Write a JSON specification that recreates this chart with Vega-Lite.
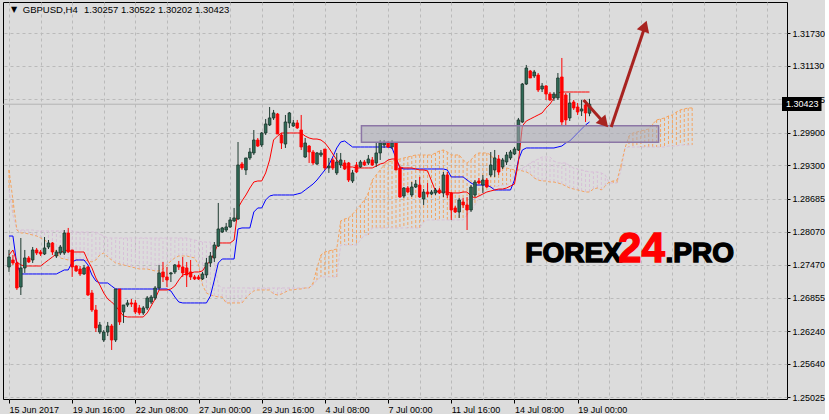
{
"$schema": "https://vega.github.io/schema/vega-lite/v6.json",
"width": 784, "height": 397,
"padding": {"left": 2, "top": 2, "right": 0, "bottom": 0},
"background": "#dcdcdc",
"config": {"view": {"stroke": "#000000", "strokeWidth": 1}, "axis": {"labelFont": "Liberation Sans", "labelFontSize": 9, "labelColor": "#000000", "tickColor": "#000000", "domain": false, "gridColor": "#bababa", "gridDash": [3,3], "labelOverlap": false, "labelFlush": false, "labelBound": false}},
"datasets": {
"bars": [
{"i":0,"o":1.27425,"h":1.27738,"l":1.27333,"c":1.27609,"t":1.27646,"k":1.27995},
{"i":1,"o":1.27554,"h":1.27646,"l":1.27462,"c":1.27499,"t":1.27738,"k":1.27995},
{"i":2,"o":1.27499,"h":1.27517,"l":1.27001,"c":1.27038,"t":1.27517,"k":1.27462},
{"i":3,"o":1.27056,"h":1.27959,"l":1.26909,"c":1.27407,"t":1.27462,"k":1.27296},
{"i":4,"o":1.27407,"h":1.27738,"l":1.27315,"c":1.27591,"t":1.27443,"k":1.27296},
{"i":5,"o":1.27591,"h":1.27627,"l":1.27499,"c":1.27517,"t":1.27443,"k":1.27296},
{"i":6,"o":1.27554,"h":1.27793,"l":1.27499,"c":1.27738,"t":1.27443,"k":1.27296},
{"i":7,"o":1.27738,"h":1.27775,"l":1.27646,"c":1.27683,"t":1.27443,"k":1.27296},
{"i":8,"o":1.27701,"h":1.27738,"l":1.27627,"c":1.27664,"t":1.27443,"k":1.27296},
{"i":9,"o":1.27664,"h":1.27977,"l":1.27646,"c":1.27775,"t":1.27499,"k":1.27296},
{"i":10,"o":1.27793,"h":1.27922,"l":1.27756,"c":1.27867,"t":1.27554,"k":1.27296},
{"i":11,"o":1.27867,"h":1.27885,"l":1.27646,"c":1.27701,"t":1.27609,"k":1.27296},
{"i":12,"o":1.27627,"h":1.27738,"l":1.27591,"c":1.27701,"t":1.27664,"k":1.27296},
{"i":13,"o":1.27683,"h":1.27830,"l":1.27646,"c":1.27793,"t":1.27701,"k":1.27333},
{"i":14,"o":1.27683,"h":1.28106,"l":1.27646,"c":1.28051,"t":1.27720,"k":1.27370},
{"i":15,"o":1.28051,"h":1.28144,"l":1.27683,"c":1.27701,"t":1.27738,"k":1.27370},
{"i":16,"o":1.27738,"h":1.27738,"l":1.27241,"c":1.27425,"t":1.27701,"k":1.27517},
{"i":17,"o":1.27443,"h":1.27462,"l":1.27333,"c":1.27352,"t":1.27701,"k":1.27554},
{"i":18,"o":1.27388,"h":1.27443,"l":1.27259,"c":1.27296,"t":1.27701,"k":1.27554},
{"i":19,"o":1.27296,"h":1.27462,"l":1.27278,"c":1.27407,"t":1.27701,"k":1.27554},
{"i":20,"o":1.27425,"h":1.27443,"l":1.26890,"c":1.26909,"t":1.27536,"k":1.27462},
{"i":21,"o":1.26946,"h":1.27001,"l":1.26596,"c":1.26633,"t":1.27407,"k":1.27278},
{"i":22,"o":1.26633,"h":1.26725,"l":1.26227,"c":1.26302,"t":1.27223,"k":1.27167},
{"i":23,"o":1.26227,"h":1.26412,"l":1.26190,"c":1.26357,"t":1.27093,"k":1.27130},
{"i":24,"o":1.26080,"h":1.26264,"l":1.26043,"c":1.26227,"t":1.26946,"k":1.27130},
{"i":25,"o":1.26227,"h":1.26412,"l":1.26153,"c":1.26338,"t":1.26835,"k":1.27130},
{"i":26,"o":1.26338,"h":1.26375,"l":1.25896,"c":1.26080,"t":1.26780,"k":1.27074},
{"i":27,"o":1.26080,"h":1.27019,"l":1.26043,"c":1.27019,"t":1.26706,"k":1.27019},
{"i":28,"o":1.27019,"h":1.27019,"l":1.26357,"c":1.26412,"t":1.26615,"k":1.27019},
{"i":29,"o":1.26596,"h":1.26725,"l":1.26394,"c":1.26725,"t":1.26522,"k":1.27019},
{"i":30,"o":1.26725,"h":1.26817,"l":1.26688,"c":1.26762,"t":1.26504,"k":1.27019},
{"i":31,"o":1.26762,"h":1.26835,"l":1.26688,"c":1.26743,"t":1.26504,"k":1.27019},
{"i":32,"o":1.26762,"h":1.26817,"l":1.26559,"c":1.26596,"t":1.26504,"k":1.27019},
{"i":33,"o":1.26670,"h":1.26725,"l":1.26541,"c":1.26578,"t":1.26504,"k":1.27019},
{"i":34,"o":1.26578,"h":1.26706,"l":1.26541,"c":1.26670,"t":1.26504,"k":1.27019},
{"i":35,"o":1.26670,"h":1.26890,"l":1.26633,"c":1.26854,"t":1.26578,"k":1.27019},
{"i":36,"o":1.26780,"h":1.26909,"l":1.26743,"c":1.26872,"t":1.26706,"k":1.27019},
{"i":37,"o":1.26854,"h":1.27074,"l":1.26817,"c":1.27038,"t":1.26835,"k":1.27019},
{"i":38,"o":1.27038,"h":1.27462,"l":1.27001,"c":1.27315,"t":1.27001,"k":1.27019},
{"i":39,"o":1.27333,"h":1.27517,"l":1.27148,"c":1.27241,"t":1.27001,"k":1.27019},
{"i":40,"o":1.27241,"h":1.27425,"l":1.27056,"c":1.27185,"t":1.27001,"k":1.27019},
{"i":41,"o":1.27296,"h":1.27333,"l":1.27148,"c":1.27315,"t":1.27019,"k":1.26983},
{"i":42,"o":1.27333,"h":1.27480,"l":1.27296,"c":1.27462,"t":1.27074,"k":1.26872},
{"i":43,"o":1.27462,"h":1.27536,"l":1.27370,"c":1.27425,"t":1.27185,"k":1.26780},
{"i":44,"o":1.27425,"h":1.27609,"l":1.27241,"c":1.27315,"t":1.27278,"k":1.26762},
{"i":45,"o":1.27407,"h":1.27517,"l":1.27056,"c":1.27278,"t":1.27296,"k":1.26762},
{"i":46,"o":1.27333,"h":1.27554,"l":1.27185,"c":1.27241,"t":1.27315,"k":1.26762},
{"i":47,"o":1.27241,"h":1.27278,"l":1.27185,"c":1.27204,"t":1.27333,"k":1.26762},
{"i":48,"o":1.27241,"h":1.27278,"l":1.27185,"c":1.27204,"t":1.27333,"k":1.26762},
{"i":49,"o":1.27204,"h":1.27333,"l":1.27185,"c":1.27296,"t":1.27352,"k":1.26762},
{"i":50,"o":1.27278,"h":1.27591,"l":1.27223,"c":1.27499,"t":1.27462,"k":1.26762},
{"i":51,"o":1.27499,"h":1.27701,"l":1.27425,"c":1.27627,"t":1.27536,"k":1.26890},
{"i":52,"o":1.27591,"h":1.27885,"l":1.27517,"c":1.27830,"t":1.27683,"k":1.27185},
{"i":53,"o":1.27811,"h":1.28604,"l":1.27793,"c":1.28125,"t":1.27867,"k":1.27499},
{"i":54,"o":1.28069,"h":1.28162,"l":1.28051,"c":1.28144,"t":1.27867,"k":1.27572},
{"i":55,"o":1.28106,"h":1.28236,"l":1.28069,"c":1.28162,"t":1.27867,"k":1.27572},
{"i":56,"o":1.28162,"h":1.28346,"l":1.28144,"c":1.28291,"t":1.27867,"k":1.27572},
{"i":57,"o":1.28273,"h":1.28512,"l":1.28254,"c":1.28328,"t":1.27922,"k":1.27572},
{"i":58,"o":1.28309,"h":1.29727,"l":1.28291,"c":1.29304,"t":1.28512,"k":1.28125},
{"i":59,"o":1.29322,"h":1.29359,"l":1.29212,"c":1.29249,"t":1.28641,"k":1.28144},
{"i":60,"o":1.29212,"h":1.29433,"l":1.29120,"c":1.29433,"t":1.28751,"k":1.28144},
{"i":61,"o":1.29433,"h":1.29617,"l":1.29396,"c":1.29543,"t":1.28880,"k":1.28144},
{"i":62,"o":1.29525,"h":1.29948,"l":1.29488,"c":1.29764,"t":1.28990,"k":1.28438},
{"i":63,"o":1.29764,"h":1.29801,"l":1.29635,"c":1.29653,"t":1.29009,"k":1.28512},
{"i":64,"o":1.29672,"h":1.29911,"l":1.29635,"c":1.29893,"t":1.29009,"k":1.28512},
{"i":65,"o":1.29893,"h":1.30151,"l":1.29856,"c":1.30059,"t":1.29157,"k":1.28659},
{"i":66,"o":1.30041,"h":1.30372,"l":1.30022,"c":1.30170,"t":1.29396,"k":1.28732},
{"i":67,"o":1.30170,"h":1.30317,"l":1.30133,"c":1.30262,"t":1.29764,"k":1.28751},
{"i":68,"o":1.30243,"h":1.30262,"l":1.29874,"c":1.29874,"t":1.29837,"k":1.28751},
{"i":69,"o":1.29856,"h":1.29893,"l":1.29598,"c":1.29709,"t":1.29893,"k":1.28751},
{"i":70,"o":1.29690,"h":1.30225,"l":1.29617,"c":1.30096,"t":1.29893,"k":1.28751},
{"i":71,"o":1.30078,"h":1.30280,"l":1.29986,"c":1.30262,"t":1.29893,"k":1.28751},
{"i":72,"o":1.30022,"h":1.30133,"l":1.30004,"c":1.30078,"t":1.29893,"k":1.28751},
{"i":73,"o":1.30078,"h":1.30133,"l":1.29967,"c":1.29986,"t":1.29893,"k":1.28769},
{"i":74,"o":1.29948,"h":1.30225,"l":1.29580,"c":1.29635,"t":1.29893,"k":1.28788},
{"i":75,"o":1.29451,"h":1.29801,"l":1.29433,"c":1.29709,"t":1.29837,"k":1.28843},
{"i":76,"o":1.29653,"h":1.29672,"l":1.29341,"c":1.29543,"t":1.29801,"k":1.28898},
{"i":77,"o":1.29543,"h":1.29580,"l":1.29304,"c":1.29341,"t":1.29782,"k":1.28953},
{"i":78,"o":1.29322,"h":1.29543,"l":1.29304,"c":1.29525,"t":1.29782,"k":1.29027},
{"i":79,"o":1.29488,"h":1.29580,"l":1.29451,"c":1.29525,"t":1.29764,"k":1.29120},
{"i":80,"o":1.29598,"h":1.29598,"l":1.29212,"c":1.29249,"t":1.29709,"k":1.29212},
{"i":81,"o":1.29249,"h":1.29433,"l":1.29157,"c":1.29285,"t":1.29617,"k":1.29304},
{"i":82,"o":1.29396,"h":1.29433,"l":1.29212,"c":1.29249,"t":1.29506,"k":1.29451},
{"i":83,"o":1.29157,"h":1.29525,"l":1.29120,"c":1.29359,"t":1.29396,"k":1.29617},
{"i":84,"o":1.29304,"h":1.29525,"l":1.29249,"c":1.29396,"t":1.29322,"k":1.29727},
{"i":85,"o":1.29341,"h":1.29396,"l":1.29212,"c":1.29230,"t":1.29267,"k":1.29746},
{"i":86,"o":1.29341,"h":1.29359,"l":1.28990,"c":1.29027,"t":1.29267,"k":1.29690},
{"i":87,"o":1.29009,"h":1.29212,"l":1.28972,"c":1.29157,"t":1.29267,"k":1.29635},
{"i":88,"o":1.29304,"h":1.29359,"l":1.29157,"c":1.29175,"t":1.29249,"k":1.29635},
{"i":89,"o":1.29267,"h":1.29396,"l":1.29249,"c":1.29359,"t":1.29249,"k":1.29635},
{"i":90,"o":1.29359,"h":1.29396,"l":1.29285,"c":1.29304,"t":1.29249,"k":1.29635},
{"i":91,"o":1.29341,"h":1.29488,"l":1.29304,"c":1.29414,"t":1.29249,"k":1.29635},
{"i":92,"o":1.29396,"h":1.29451,"l":1.29285,"c":1.29304,"t":1.29249,"k":1.29635},
{"i":93,"o":1.29341,"h":1.29727,"l":1.29267,"c":1.29525,"t":1.29285,"k":1.29635},
{"i":94,"o":1.29525,"h":1.29764,"l":1.29396,"c":1.29709,"t":1.29322,"k":1.29635},
{"i":95,"o":1.29672,"h":1.29764,"l":1.29617,"c":1.29709,"t":1.29341,"k":1.29635},
{"i":96,"o":1.29709,"h":1.29746,"l":1.29617,"c":1.29635,"t":1.29396,"k":1.29635},
{"i":97,"o":1.29635,"h":1.29764,"l":1.29598,"c":1.29709,"t":1.29414,"k":1.29617},
{"i":98,"o":1.29709,"h":1.29727,"l":1.29212,"c":1.29212,"t":1.29414,"k":1.29433},
{"i":99,"o":1.29249,"h":1.29267,"l":1.28696,"c":1.28714,"t":1.29267,"k":1.29249},
{"i":100,"o":1.28732,"h":1.28898,"l":1.28696,"c":1.28880,"t":1.29249,"k":1.29230},
{"i":101,"o":1.28880,"h":1.28916,"l":1.28788,"c":1.28806,"t":1.29249,"k":1.29230},
{"i":102,"o":1.28751,"h":1.28990,"l":1.28714,"c":1.28898,"t":1.29249,"k":1.29230},
{"i":103,"o":1.28898,"h":1.29027,"l":1.28880,"c":1.28953,"t":1.29230,"k":1.29230},
{"i":104,"o":1.28935,"h":1.29083,"l":1.28696,"c":1.28714,"t":1.29212,"k":1.29230},
{"i":105,"o":1.28677,"h":1.28861,"l":1.28567,"c":1.28806,"t":1.29212,"k":1.29230},
{"i":106,"o":1.28806,"h":1.28972,"l":1.28714,"c":1.28769,"t":1.29194,"k":1.29230},
{"i":107,"o":1.28769,"h":1.28843,"l":1.28751,"c":1.28806,"t":1.29009,"k":1.29230},
{"i":108,"o":1.28788,"h":1.28880,"l":1.28751,"c":1.28843,"t":1.28825,"k":1.29230},
{"i":109,"o":1.28843,"h":1.28880,"l":1.28769,"c":1.28788,"t":1.28806,"k":1.29230},
{"i":110,"o":1.28788,"h":1.29175,"l":1.28714,"c":1.29120,"t":1.28806,"k":1.29230},
{"i":111,"o":1.29120,"h":1.29175,"l":1.28696,"c":1.28751,"t":1.28806,"k":1.29212},
{"i":112,"o":1.28788,"h":1.28806,"l":1.28291,"c":1.28475,"t":1.28788,"k":1.29083},
{"i":113,"o":1.28512,"h":1.28548,"l":1.28420,"c":1.28438,"t":1.28788,"k":1.29083},
{"i":114,"o":1.28438,"h":1.28696,"l":1.28328,"c":1.28659,"t":1.28788,"k":1.29083},
{"i":115,"o":1.28622,"h":1.28696,"l":1.28512,"c":1.28567,"t":1.28806,"k":1.29083},
{"i":116,"o":1.28567,"h":1.28714,"l":1.28106,"c":1.28475,"t":1.28806,"k":1.29027},
{"i":117,"o":1.28475,"h":1.28935,"l":1.28438,"c":1.28898,"t":1.28732,"k":1.28972},
{"i":118,"o":1.28751,"h":1.29027,"l":1.28714,"c":1.28990,"t":1.28696,"k":1.28935},
{"i":119,"o":1.29009,"h":1.29064,"l":1.28953,"c":1.28972,"t":1.28732,"k":1.28935},
{"i":120,"o":1.28935,"h":1.29120,"l":1.28788,"c":1.29027,"t":1.28769,"k":1.28935},
{"i":121,"o":1.29027,"h":1.29064,"l":1.28880,"c":1.28898,"t":1.28806,"k":1.28935},
{"i":122,"o":1.29120,"h":1.29543,"l":1.29083,"c":1.29304,"t":1.28825,"k":1.28898},
{"i":123,"o":1.29212,"h":1.29580,"l":1.29083,"c":1.29433,"t":1.28843,"k":1.28843},
{"i":124,"o":1.29414,"h":1.29488,"l":1.29120,"c":1.29175,"t":1.28861,"k":1.28843},
{"i":125,"o":1.29267,"h":1.29433,"l":1.29230,"c":1.29396,"t":1.28861,"k":1.28843},
{"i":126,"o":1.29359,"h":1.29543,"l":1.29304,"c":1.29488,"t":1.28880,"k":1.28843},
{"i":127,"o":1.29433,"h":1.29580,"l":1.29396,"c":1.29543,"t":1.28916,"k":1.28843},
{"i":128,"o":1.29506,"h":1.29635,"l":1.29488,"c":1.29598,"t":1.28953,"k":1.29027},
{"i":129,"o":1.29580,"h":1.30170,"l":1.29562,"c":1.30133,"t":1.29359,"k":1.29396},
{"i":130,"o":1.30096,"h":1.30814,"l":1.30078,"c":1.30795,"t":1.30022,"k":1.29580},
{"i":131,"o":1.30795,"h":1.31146,"l":1.30777,"c":1.31090,"t":1.30114,"k":1.29617},
{"i":132,"o":1.31035,"h":1.31054,"l":1.30906,"c":1.30906,"t":1.30151,"k":1.29617},
{"i":133,"o":1.30943,"h":1.31054,"l":1.30906,"c":1.31017,"t":1.30188,"k":1.29617},
{"i":134,"o":1.30961,"h":1.30998,"l":1.30648,"c":1.30685,"t":1.30225,"k":1.29617},
{"i":135,"o":1.30703,"h":1.30814,"l":1.30648,"c":1.30759,"t":1.30262,"k":1.29617},
{"i":136,"o":1.30759,"h":1.30777,"l":1.30501,"c":1.30611,"t":1.30354,"k":1.29617},
{"i":137,"o":1.30611,"h":1.30648,"l":1.30483,"c":1.30501,"t":1.30427,"k":1.29617},
{"i":138,"o":1.30538,"h":1.30648,"l":1.30483,"c":1.30611,"t":1.30538,"k":1.29617},
{"i":139,"o":1.30538,"h":1.30998,"l":1.30501,"c":1.30906,"t":1.30630,"k":1.29635},
{"i":140,"o":1.30925,"h":1.31275,"l":1.30041,"c":1.30096,"t":1.30648,"k":1.29653},
{"i":141,"o":1.30593,"h":1.30630,"l":1.30022,"c":1.30133,"t":1.30648,"k":1.29709},
{"i":142,"o":1.30170,"h":1.30630,"l":1.30114,"c":1.30446,"t":1.30648,"k":1.29746},
{"i":143,"o":1.30464,"h":1.30501,"l":1.30317,"c":1.30354,"t":1.30648,"k":1.29819},
{"i":144,"o":1.30372,"h":1.30446,"l":1.30225,"c":1.30280,"t":1.30648,"k":1.29893},
{"i":145,"o":1.30298,"h":1.30501,"l":1.30206,"c":1.30335,"t":1.30648,"k":1.29967},
{"i":146,"o":1.30409,"h":1.30501,"l":1.30096,"c":1.30262,"t":1.30648,"k":1.30041},
{"i":147,"o":1.30257,"h":1.30522,"l":1.30202,"c":1.30423,"t":1.30648,"k":1.30096}
],
"cloud": [
{"i":0,"a":1.29212,"b":1.28843},{"i":1,"a":1.28659,"b":1.28383},{"i":2,"a":1.28106,"b":1.28106},{"i":3,"a":1.28051,"b":1.28106},
{"i":4,"a":1.28051,"b":1.28106},{"i":5,"a":1.28032,"b":1.28106},{"i":6,"a":1.28014,"b":1.28106},{"i":7,"a":1.27995,"b":1.28088},
{"i":8,"a":1.27959,"b":1.28088},{"i":9,"a":1.27922,"b":1.28088},{"i":10,"a":1.27867,"b":1.28088},{"i":11,"a":1.27811,"b":1.28088},
{"i":12,"a":1.27701,"b":1.28088},{"i":13,"a":1.27591,"b":1.28088},{"i":14,"a":1.27572,"b":1.28088},{"i":15,"a":1.27554,"b":1.28088},
{"i":16,"a":1.27554,"b":1.28088},{"i":17,"a":1.27554,"b":1.28069},{"i":18,"a":1.27554,"b":1.28069},{"i":19,"a":1.27554,"b":1.28069},
{"i":20,"a":1.27536,"b":1.28069},{"i":21,"a":1.27517,"b":1.28069},{"i":22,"a":1.27554,"b":1.28069},{"i":23,"a":1.27646,"b":1.28032},
{"i":24,"a":1.27683,"b":1.27995},{"i":25,"a":1.27609,"b":1.27959},{"i":26,"a":1.27554,"b":1.27959},{"i":27,"a":1.27499,"b":1.27959},
{"i":28,"a":1.27480,"b":1.27959},{"i":29,"a":1.27462,"b":1.27959},{"i":30,"a":1.27443,"b":1.27959},{"i":31,"a":1.27425,"b":1.27959},
{"i":32,"a":1.27407,"b":1.27959},{"i":33,"a":1.27388,"b":1.27959},{"i":34,"a":1.27388,"b":1.27959},{"i":35,"a":1.27388,"b":1.27959},
{"i":36,"a":1.27370,"b":1.27959},{"i":37,"a":1.27352,"b":1.27959},{"i":38,"a":1.27352,"b":1.27959},{"i":39,"a":1.27388,"b":1.27959},
{"i":40,"a":1.27462,"b":1.27959},{"i":41,"a":1.27536,"b":1.27959},{"i":42,"a":1.27591,"b":1.27959},{"i":43,"a":1.27627,"b":1.27959},
{"i":44,"a":1.27627,"b":1.27959},{"i":45,"a":1.27627,"b":1.27959},{"i":46,"a":1.27609,"b":1.27940},{"i":47,"a":1.27591,"b":1.27922},
{"i":48,"a":1.27462,"b":1.27903},{"i":49,"a":1.27093,"b":1.27885},{"i":50,"a":1.26946,"b":1.27885},{"i":51,"a":1.26909,"b":1.27885},
{"i":52,"a":1.26890,"b":1.27554},{"i":53,"a":1.26872,"b":1.27093},{"i":54,"a":1.26872,"b":1.27038},{"i":55,"a":1.26762,"b":1.27038},
{"i":56,"a":1.26762,"b":1.27038},{"i":57,"a":1.26762,"b":1.27038},{"i":58,"a":1.26762,"b":1.27038},{"i":59,"a":1.26762,"b":1.27038},
{"i":60,"a":1.26854,"b":1.27038},{"i":61,"a":1.26927,"b":1.27038},{"i":62,"a":1.26983,"b":1.27038},{"i":63,"a":1.27001,"b":1.27038},
{"i":64,"a":1.27001,"b":1.27038},{"i":65,"a":1.27001,"b":1.27038},{"i":66,"a":1.27001,"b":1.27038},{"i":67,"a":1.26927,"b":1.27038},
{"i":68,"a":1.26909,"b":1.27038},{"i":69,"a":1.26927,"b":1.27038},{"i":70,"a":1.26964,"b":1.27038},{"i":71,"a":1.27001,"b":1.27038},
{"i":72,"a":1.27001,"b":1.27038},{"i":73,"a":1.27019,"b":1.27038},{"i":74,"a":1.27019,"b":1.27038},{"i":75,"a":1.27038,"b":1.27038},
{"i":76,"a":1.27038,"b":1.27038},{"i":77,"a":1.27130,"b":1.27093},{"i":78,"a":1.27407,"b":1.27185},{"i":79,"a":1.27646,"b":1.27241},
{"i":80,"a":1.27701,"b":1.27241},{"i":81,"a":1.27720,"b":1.27241},{"i":82,"a":1.27738,"b":1.27241},{"i":83,"a":1.27756,"b":1.27241},
{"i":84,"a":1.28273,"b":1.27830},{"i":85,"a":1.28309,"b":1.27830},{"i":86,"a":1.28328,"b":1.27830},{"i":87,"a":1.28401,"b":1.27830},
{"i":88,"a":1.28475,"b":1.27830},{"i":89,"a":1.28567,"b":1.27922},{"i":90,"a":1.28659,"b":1.28014},{"i":91,"a":1.28788,"b":1.28014},
{"i":92,"a":1.29027,"b":1.28144},{"i":93,"a":1.29120,"b":1.28144},{"i":94,"a":1.29212,"b":1.28144},{"i":95,"a":1.29304,"b":1.28144},
{"i":96,"a":1.29359,"b":1.28144},{"i":97,"a":1.29377,"b":1.28144},{"i":98,"a":1.29396,"b":1.28144},{"i":99,"a":1.29414,"b":1.28144},
{"i":100,"a":1.29433,"b":1.28144},{"i":101,"a":1.29451,"b":1.28144},{"i":102,"a":1.29469,"b":1.28144},{"i":103,"a":1.29488,"b":1.28144},
{"i":104,"a":1.29488,"b":1.28144},{"i":105,"a":1.29488,"b":1.28254},{"i":106,"a":1.29488,"b":1.28291},{"i":107,"a":1.29488,"b":1.28291},
{"i":108,"a":1.29525,"b":1.28291},{"i":109,"a":1.29562,"b":1.28291},{"i":110,"a":1.29580,"b":1.28291},{"i":111,"a":1.29543,"b":1.28291},
{"i":112,"a":1.29488,"b":1.28291},{"i":113,"a":1.29488,"b":1.28291},{"i":114,"a":1.29488,"b":1.28291},{"i":115,"a":1.29396,"b":1.28291},
{"i":116,"a":1.29341,"b":1.28383},{"i":117,"a":1.29396,"b":1.28475},{"i":118,"a":1.29488,"b":1.28567},{"i":119,"a":1.29525,"b":1.28696},
{"i":120,"a":1.29525,"b":1.28788},{"i":121,"a":1.29525,"b":1.28843},{"i":122,"a":1.29488,"b":1.28880},{"i":123,"a":1.29396,"b":1.28898},
{"i":124,"a":1.29304,"b":1.28916},{"i":125,"a":1.29249,"b":1.28935},{"i":126,"a":1.29249,"b":1.28935},{"i":127,"a":1.29230,"b":1.28972},
{"i":128,"a":1.29212,"b":1.29120},{"i":129,"a":1.29212,"b":1.29212},{"i":130,"a":1.29194,"b":1.29249},{"i":131,"a":1.29175,"b":1.29285},
{"i":132,"a":1.29138,"b":1.29341},{"i":133,"a":1.29064,"b":1.29377},{"i":134,"a":1.29027,"b":1.29414},{"i":135,"a":1.29009,"b":1.29451},
{"i":136,"a":1.29009,"b":1.29451},{"i":137,"a":1.28990,"b":1.29451},{"i":138,"a":1.28990,"b":1.29377},{"i":139,"a":1.28972,"b":1.29341},
{"i":140,"a":1.28953,"b":1.29341},{"i":141,"a":1.28916,"b":1.29341},{"i":142,"a":1.28880,"b":1.29285},{"i":143,"a":1.28861,"b":1.29249},
{"i":144,"a":1.28843,"b":1.29230},{"i":145,"a":1.28825,"b":1.29212},{"i":146,"a":1.28806,"b":1.29194},{"i":147,"a":1.28806,"b":1.29175},
{"i":148,"a":1.28861,"b":1.29175},{"i":149,"a":1.28880,"b":1.29175},{"i":150,"a":1.28843,"b":1.29157},{"i":151,"a":1.28916,"b":1.29120},
{"i":152,"a":1.28990,"b":1.28972},{"i":153,"a":1.29009,"b":1.28972},{"i":154,"a":1.29027,"b":1.28972},{"i":155,"a":1.29304,"b":1.29212},
{"i":156,"a":1.29617,"b":1.29617},{"i":157,"a":1.29837,"b":1.29635},{"i":158,"a":1.29893,"b":1.29635},{"i":159,"a":1.29911,"b":1.29635},
{"i":160,"a":1.29930,"b":1.29635},{"i":161,"a":1.29948,"b":1.29635},{"i":162,"a":1.29967,"b":1.29635},{"i":163,"a":1.30059,"b":1.29635},
{"i":164,"a":1.30133,"b":1.29635},{"i":165,"a":1.30151,"b":1.29635},{"i":166,"a":1.30170,"b":1.29635},{"i":167,"a":1.30206,"b":1.29653},
{"i":168,"a":1.30225,"b":1.29653},{"i":169,"a":1.30280,"b":1.29653},{"i":170,"a":1.30317,"b":1.29672},{"i":171,"a":1.30335,"b":1.29672},
{"i":172,"a":1.30354,"b":1.29672},{"i":173,"a":1.30354,"b":1.29672}
]
},
"layer": [
{"data": {"name": "cloud"},
 "mark": {"type": "rule", "strokeDash": [3,2], "strokeWidth": 1},
 "encoding": {
  "x": {"field": "i", "type": "quantitative", "title": null, "scale": {"domain": [-0.25, 195.75], "nice": false, "zero": false},
        "axis": {"orient": "bottom", "values": [0,8,16,24,32,40,48,56,64,72,80,88,96,104,112,120,128,136,144,152,160,168,176,184,192], "tickCount": 200,
                 "labelExpr": "(datum.value % 16 == 0 && datum.value <= 144) ? ['15 Jun 2017','19 Jun 16:00','22 Jun 08:00','27 Jun 00:00','29 Jun 16:00','4 Jul 08:00','7 Jul 00:00','11 Jul 16:00','14 Jul 08:00','19 Jul 00:00'][datum.value / 16] : ''",
                 "labelAlign": "left", "labelBaseline": "top", "tickSize": 4, "labelPadding": 2, "grid": true, "labelFlush": false, "labelOverlap": false,
                 "tickColor": {"condition": {"test": "datum.value % 16 == 0 && datum.value <= 144", "value": "#000000"}, "value": "transparent"}, "title": null}},
  "y": {"field": "a", "type": "quantitative", "title": null, "scale": {"domain": [1.24993, 1.32306], "nice": false, "zero": false},
        "axis": {"orient": "right", "values": [1.25025,1.2564,1.2624,1.26855,1.2747,1.2807,1.28685,1.293,1.299,1.30515,1.3113,1.3173], "tickCount": 200, "format": ".5f",
                 "tickSize": 3, "labelPadding": 2, "grid": true, "labelFlush": false, "labelOverlap": false, "labelBound": false, "title": null}},
  "y2": {"field": "b"},
  "color": {"condition": {"test": "datum.a >= datum.b", "value": "#f4a460"}, "value": "#d8bfd8"}
 }},
{"data": {"name": "cloud"},
 "mark": {"type": "line", "stroke": "#d8bfd8", "strokeDash": [3,2], "strokeWidth": 1},
 "encoding": {"x": {"field": "i", "type": "quantitative", "title": null, "scale": {"domain": [-0.25, 195.75], "nice": false, "zero": false}},
              "y": {"field": "b", "type": "quantitative", "title": null, "scale": {"domain": [1.24993, 1.32306], "nice": false, "zero": false}}}},
{"data": {"name": "cloud"},
 "mark": {"type": "line", "stroke": "#f4a460", "strokeDash": [3,2], "strokeWidth": 1},
 "encoding": {"x": {"field": "i", "type": "quantitative", "title": null, "scale": {"domain": [-0.25, 195.75], "nice": false, "zero": false}},
              "y": {"field": "a", "type": "quantitative", "title": null, "scale": {"domain": [1.24993, 1.32306], "nice": false, "zero": false}}}},
{"data": {"values": [{}]},
 "mark": {"type": "rule", "stroke": "#b4b4b4", "strokeWidth": 1},
 "encoding": {"y": {"datum": 1.30423, "type": "quantitative", "scale": {"domain": [1.24993, 1.32306], "nice": false, "zero": false}}}},
{"data": {"name": "bars"},
 "mark": {"type": "line", "stroke": "#0000ff", "strokeWidth": 1},
 "encoding": {"x": {"field": "i", "type": "quantitative", "title": null, "scale": {"domain": [-0.25, 195.75], "nice": false, "zero": false}},
              "y": {"field": "k", "type": "quantitative", "title": null, "scale": {"domain": [1.24993, 1.32306], "nice": false, "zero": false}}}},
{"data": {"name": "bars"},
 "mark": {"type": "line", "stroke": "#ff0000", "strokeWidth": 1},
 "encoding": {"x": {"field": "i", "type": "quantitative", "title": null, "scale": {"domain": [-0.25, 195.75], "nice": false, "zero": false}},
              "y": {"field": "t", "type": "quantitative", "title": null, "scale": {"domain": [1.24993, 1.32306], "nice": false, "zero": false}}}},
{"data": {"name": "bars"},
 "mark": {"type": "rule", "strokeWidth": 1},
 "encoding": {"x": {"field": "i", "type": "quantitative", "title": null, "scale": {"domain": [-0.25, 195.75], "nice": false, "zero": false}},
              "y": {"field": "l", "type": "quantitative", "title": null, "scale": {"domain": [1.24993, 1.32306], "nice": false, "zero": false}},
              "y2": {"field": "h"},
              "color": {"condition": {"test": "datum.c >= datum.o", "value": "#1e3a30"}, "value": "#ff0000"}}},
{"data": {"name": "bars"},
 "mark": {"type": "bar", "size": 2.6, "strokeWidth": 0.8},
 "encoding": {"x": {"field": "i", "type": "quantitative", "title": null, "scale": {"domain": [-0.25, 195.75], "nice": false, "zero": false}},
              "y": {"field": "o", "type": "quantitative", "title": null, "scale": {"domain": [1.24993, 1.32306], "nice": false, "zero": false}},
              "y2": {"field": "c"},
              "fill": {"condition": {"test": "datum.c >= datum.o", "value": "#2f6b57"}, "value": "#ff0000"},
              "stroke": {"condition": {"test": "datum.c >= datum.o", "value": "#1a3329"}, "value": "#ff0000"}}},
{"data": {"values": [{}]},
 "mark": {"type": "rect", "fill": "#a9a9b4", "fillOpacity": 0.55, "stroke": "#8c76a6", "strokeWidth": 1.5},
 "encoding": {"x": {"datum": 89.25, "type": "quantitative", "scale": {"domain": [-0.25, 195.75], "nice": false, "zero": false}},
              "x2": {"datum": 164.5},
              "y": {"datum": 1.30028, "type": "quantitative", "scale": {"domain": [1.24993, 1.32306], "nice": false, "zero": false}},
              "y2": {"datum": 1.29722}}},
{"data": {"values": [{}]},
 "mark": {"type": "rule", "stroke": "#a82320", "strokeWidth": 3},
 "encoding": {"x": {"datum": 145.5, "type": "quantitative", "scale": {"domain": [-0.25, 195.75], "nice": false, "zero": false}},
              "x2": {"datum": 150.5},
              "y": {"datum": 1.30501, "type": "quantitative", "scale": {"domain": [1.24993, 1.32306], "nice": false, "zero": false}},
              "y2": {"datum": 1.30096}}},
{"data": {"values": [{}]},
 "mark": {"type": "rule", "stroke": "#a82320", "strokeWidth": 3},
 "encoding": {"x": {"datum": 152.5, "type": "quantitative", "scale": {"domain": [-0.25, 195.75], "nice": false, "zero": false}},
              "x2": {"datum": 160.75},
              "y": {"datum": 1.30004, "type": "quantitative", "scale": {"domain": [1.24993, 1.32306], "nice": false, "zero": false}},
              "y2": {"datum": 1.3179}}},
{"data": {"values": [{}]},
 "mark": {"type": "point", "shape": "triangle-up", "filled": true, "color": "#a82320", "opacity": 1, "size": 170, "angle": 138},
 "encoding": {"x": {"datum": 150.75, "type": "quantitative", "scale": {"domain": [-0.25, 195.75], "nice": false, "zero": false}},
              "y": {"datum": 1.30078, "type": "quantitative", "scale": {"domain": [1.24993, 1.32306], "nice": false, "zero": false}}}},
{"data": {"values": [{}]},
 "mark": {"type": "point", "shape": "triangle-up", "filled": true, "color": "#a82320", "opacity": 1, "size": 170, "angle": 19},
 "encoding": {"x": {"datum": 161, "type": "quantitative", "scale": {"domain": [-0.25, 195.75], "nice": false, "zero": false}},
              "y": {"datum": 1.31864, "type": "quantitative", "scale": {"domain": [1.24993, 1.32306], "nice": false, "zero": false}}}},
{"data": {"values": [{}]},
 "mark": {"type": "text", "text": "FOREX", "font": "Liberation Sans", "fontWeight": "bold", "fontSize": 28, "fill": "#000000", "stroke": "#000000", "strokeWidth": 1.4, "align": "left", "baseline": "alphabetic"},
 "encoding": {"x": {"datum": 130.75, "type": "quantitative", "scale": {"domain": [-0.25, 195.75], "nice": false, "zero": false}},
              "y": {"datum": 1.27522, "type": "quantitative", "scale": {"domain": [1.24993, 1.32306], "nice": false, "zero": false}}}},
{"data": {"values": [{}]},
 "mark": {"type": "text", "text": "24", "font": "Liberation Sans", "fontWeight": "bold", "fontSize": 42, "fill": "#ff0000", "stroke": "#ff0000", "strokeWidth": 1.4, "align": "left", "baseline": "alphabetic"},
 "encoding": {"x": {"datum": 154.25, "type": "quantitative", "scale": {"domain": [-0.25, 195.75], "nice": false, "zero": false}},
              "y": {"datum": 1.27522, "type": "quantitative", "scale": {"domain": [1.24993, 1.32306], "nice": false, "zero": false}}}},
{"data": {"values": [{}]},
 "mark": {"type": "text", "text": ".PRO", "font": "Liberation Sans", "fontWeight": "bold", "fontSize": 28, "fill": "#000000", "stroke": "#000000", "strokeWidth": 1.4, "align": "left", "baseline": "alphabetic"},
 "encoding": {"x": {"datum": 166.25, "type": "quantitative", "scale": {"domain": [-0.25, 195.75], "nice": false, "zero": false}},
              "y": {"datum": 1.27522, "type": "quantitative", "scale": {"domain": [1.24993, 1.32306], "nice": false, "zero": false}}}},
{"data": {"values": [{}]},
 "mark": {"type": "text", "text": "▼", "font": "DejaVu Sans", "fontSize": 8, "fill": "#000000", "align": "left", "baseline": "middle"},
 "encoding": {"x": {"datum": 0.5, "type": "quantitative", "scale": {"domain": [-0.25, 195.75], "nice": false, "zero": false}},
              "y": {"datum": 1.32159, "type": "quantitative", "scale": {"domain": [1.24993, 1.32306], "nice": false, "zero": false}}}},
{"data": {"values": [{}]},
 "mark": {"type": "text", "text": "GBPUSD,H4", "font": "Liberation Sans", "fontSize": 9.5, "fill": "#000000", "align": "left", "baseline": "middle"},
 "encoding": {"x": {"datum": 3.5, "type": "quantitative", "scale": {"domain": [-0.25, 195.75], "nice": false, "zero": false}},
              "y": {"datum": 1.32159, "type": "quantitative", "scale": {"domain": [1.24993, 1.32306], "nice": false, "zero": false}}}},
{"data": {"values": [{}]},
 "mark": {"type": "text", "text": "1.30257 1.30522 1.30202 1.30423", "font": "Liberation Sans", "fontSize": 9.5, "fill": "#000000", "align": "left", "baseline": "middle"},
 "encoding": {"x": {"datum": 19, "type": "quantitative", "scale": {"domain": [-0.25, 195.75], "nice": false, "zero": false}},
              "y": {"datum": 1.32159, "type": "quantitative", "scale": {"domain": [1.24993, 1.32306], "nice": false, "zero": false}}}},
{"data": {"values": [{}]},
 "mark": {"type": "rect", "fill": "#000000"},
 "encoding": {"x": {"datum": 195.75, "type": "quantitative", "scale": {"domain": [-0.25, 195.75], "nice": false, "zero": false}},
              "x2": {"datum": 205.75},
              "y": {"datum": 1.30556, "type": "quantitative", "scale": {"domain": [1.24993, 1.32306], "nice": false, "zero": false}},
              "y2": {"datum": 1.30298}}},
{"data": {"values": [{}]},
 "mark": {"type": "text", "text": "1.30423", "font": "Liberation Sans", "fontSize": 9, "fill": "#ffffff", "align": "left", "baseline": "middle"},
 "encoding": {"x": {"datum": 196.75, "type": "quantitative", "scale": {"domain": [-0.25, 195.75], "nice": false, "zero": false}},
              "y": {"datum": 1.30423, "type": "quantitative", "scale": {"domain": [1.24993, 1.32306], "nice": false, "zero": false}}}}
]
}
